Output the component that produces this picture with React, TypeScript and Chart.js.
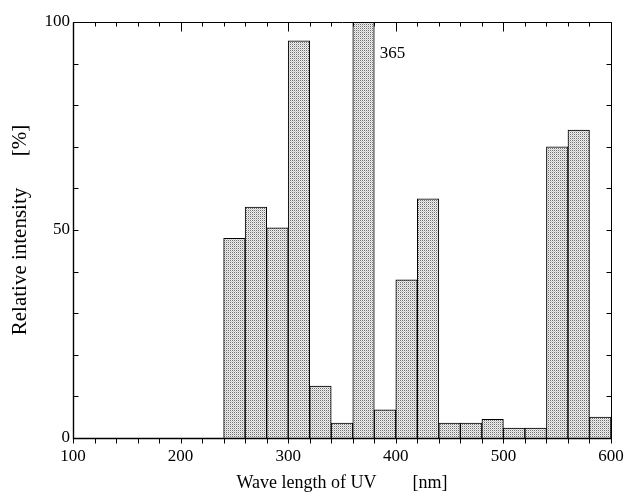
import React, { useEffect, useRef } from 'react';
import { Chart, registerables } from 'chart.js';

Chart.register(...registerables);

// 20 nm bins, centre wavelength [nm]
const binCenters = [250, 270, 290, 310, 330, 350, 370, 390, 410, 430, 450, 470, 490, 510, 530, 550, 570, 590];
// relative intensity [%]
const intensity = [48, 55.5, 50.5, 95.5, 12.5, 3.6, 100, 6.8, 38, 57.5, 3.6, 3.6, 4.5, 2.4, 2.4, 70, 74, 5];
const xTickValues = [100, 200, 300, 400, 500, 600];
const yTickValues = [0, 50, 100];
const xMinorStep = 20;
const yMinorStep = 10;
const peakText = '365';
const peakAnchor = { x: 385, y: 92.5 };

const FONT = 'Liberation Serif, Times New Roman, serif';

function makePattern(): CanvasPattern | string {
  const c = document.createElement('canvas');
  c.width = 2;
  c.height = 2;
  const g = c.getContext('2d');
  if (!g) return '#d0d0d0';
  g.fillStyle = '#efefef';
  g.fillRect(0, 0, 2, 2);
  g.fillStyle = '#6e6e6e';
  g.fillRect(0, 0, 1, 1);
  g.fillStyle = '#c8c8c8';
  g.fillRect(1, 1, 1, 1);
  const p = g.createPattern(c, 'repeat');
  return p || '#d0d0d0';
}

const framePlugin = {
  id: 'frameTicks',
  afterDatasetsDraw(chart: any) {
    const { ctx, chartArea, scales } = chart;
    const { left, right, top, bottom } = chartArea;
    const x = scales.x;
    const y = scales.y;
    const r = (v: number) => Math.round(v) + 0.5;
    ctx.save();
    ctx.strokeStyle = '#000';
    ctx.lineWidth = 1;
    // frame
    ctx.beginPath();
    ctx.moveTo(r(left), r(top));
    ctx.lineTo(r(right), r(top));
    ctx.lineTo(r(right), r(bottom));
    ctx.lineTo(r(left), r(bottom));
    ctx.closePath();
    ctx.stroke();
    ctx.lineWidth = 1.4;
    ctx.beginPath();
    ctx.moveTo(r(left), r(top));
    ctx.lineTo(r(left), r(bottom));
    ctx.lineTo(r(right), r(bottom));
    ctx.stroke();
    ctx.lineWidth = 1;
    // x ticks
    ctx.beginPath();
    for (let v = x.min; v <= x.max + 1e-6; v += xMinorStep) {
      const px = r(x.getPixelForValue(v));
      const major = Math.abs(v % 100) < 1e-6;
      ctx.moveTo(px, r(top));
      ctx.lineTo(px, r(top) + (major ? 9 : 4));
      ctx.moveTo(px, r(bottom));
      ctx.lineTo(px, r(bottom) + 5);
    }
    // y ticks
    for (let v = y.min; v <= y.max + 1e-6; v += yMinorStep) {
      const py = r(y.getPixelForValue(v));
      ctx.moveTo(r(left), py);
      ctx.lineTo(r(left) + 5, py);
      ctx.moveTo(r(right), py);
      ctx.lineTo(r(right) - 5, py);
    }
    ctx.stroke();
    // peak annotation
    ctx.fillStyle = '#000';
    ctx.font = `17px ${FONT}`;
    ctx.textAlign = 'left';
    ctx.textBaseline = 'middle';
    ctx.fillText(peakText, x.getPixelForValue(peakAnchor.x), y.getPixelForValue(peakAnchor.y));
    ctx.restore();
  },
};

export default function App() {
  const ref = useRef<HTMLCanvasElement | null>(null);
  useEffect(() => {
    document.body.style.margin = '0';
    const canvas = ref.current;
    if (!canvas) return;
    const chart = new Chart(canvas, {
      type: 'bar',
      data: {
        datasets: [
          {
            data: binCenters.map((c, i) => ({ x: c, y: intensity[i] })),
            backgroundColor: makePattern() as any,
            borderColor: '#000',
            borderWidth: 1,
            borderSkipped: 'bottom',
            barPercentage: 1,
            categoryPercentage: 1,
          },
        ],
      },
      options: {
        responsive: false,
        animation: false,
        devicePixelRatio: 1,
        layout: { padding: { top: 22, right: 15, left: 0, bottom: 0 } },
        plugins: { legend: { display: false }, tooltip: { enabled: false } },
        scales: {
          x: {
            type: 'linear',
            min: 100,
            max: 600,
            offset: false,
            afterBuildTicks: (s: any) => {
              s.ticks = xTickValues.map((v) => ({ value: v }));
            },
            afterFit: (s: any) => {
              s.height = 56;
              s.paddingLeft = 0;
              s.paddingRight = 0;
            },
            ticks: {
              color: '#000',
              font: { family: FONT, size: 17 },
              padding: 8,
              maxRotation: 0,
              autoSkip: false,
            },
            grid: { display: false, drawTicks: false },
            border: { display: false },
            title: {
              display: true,
              text: 'Wave length of UV        [nm]',
              color: '#000',
              font: { family: FONT, size: 18 },
              padding: { top: 0, bottom: 0 },
            },
          },
          y: {
            type: 'linear',
            min: 0,
            max: 100,
            afterBuildTicks: (s: any) => {
              s.ticks = yTickValues.map((v) => ({ value: v }));
            },
            afterFit: (s: any) => {
              s.width = 73;
              s.paddingTop = 0;
              s.paddingBottom = 0;
            },
            ticks: {
              color: '#000',
              font: { family: FONT, size: 17 },
              padding: 3,
            },
            grid: { display: false, drawTicks: false },
            border: { display: false },
            title: {
              display: true,
              text: 'Relative intensity      [%]',
              color: '#000',
              font: { family: FONT, size: 21 },
              padding: { top: 8, bottom: 0 },
            },
          },
        },
      },
      plugins: [framePlugin],
    });
    return () => chart.destroy();
  }, []);
  return <canvas ref={ref} width={626} height={494} style={{ display: 'block' }} />;
}
